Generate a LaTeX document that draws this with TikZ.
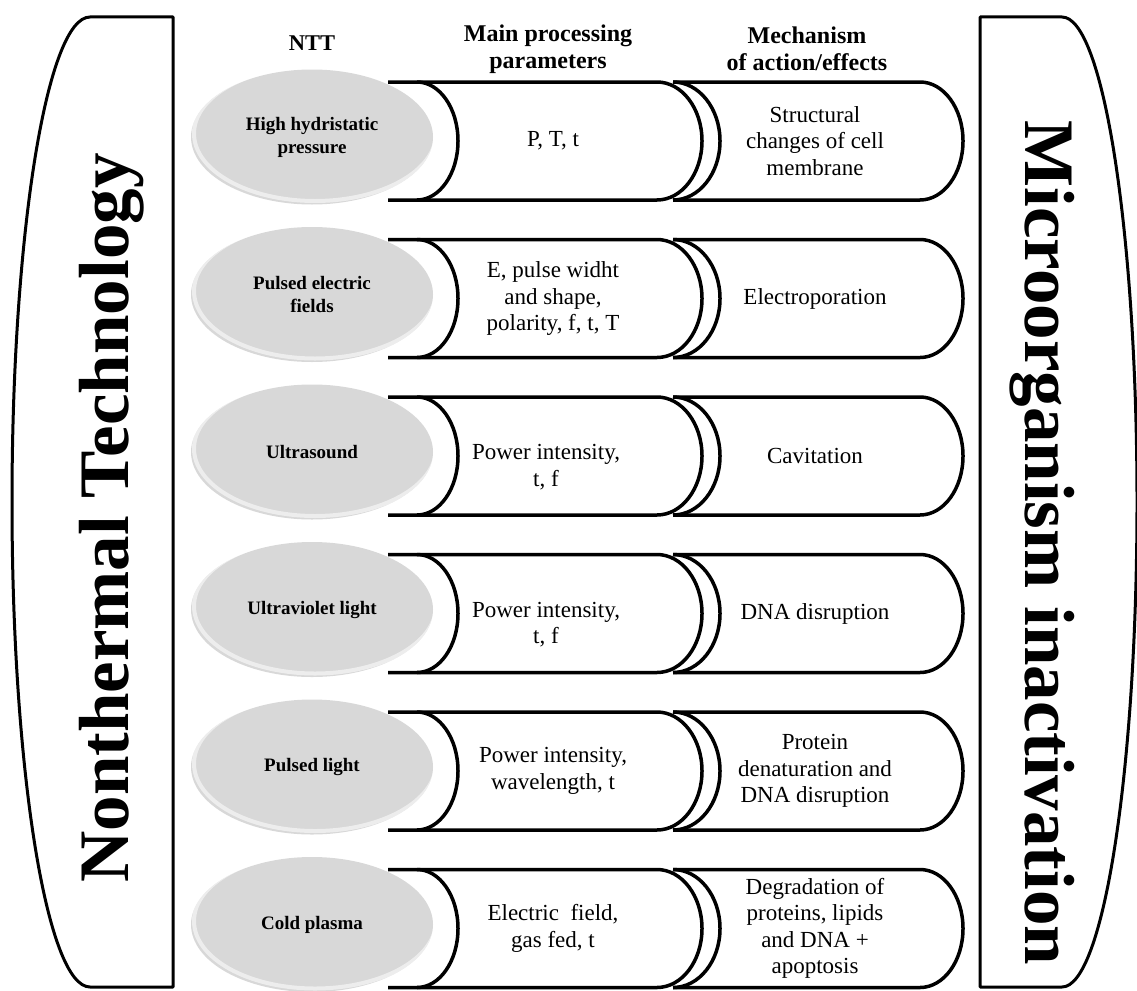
\documentclass[tikz,border=0pt]{standalone}
\usepackage{fontspec}
\setmainfont{Liberation Serif}
\definecolor{ellgray}{RGB}{216,216,216}
\begin{document}
\begin{tikzpicture}[x=1pt,y=1pt,
  outl/.style={line width=3.5pt, line join=round},
  brk/.style={line width=3pt, line join=round},
  ntt/.style={font=\fontsize{19}{23}\selectfont\bfseries, align=center, inner sep=0pt},
  body/.style={font=\fontsize{23}{26.5}\selectfont, align=center, inner sep=0pt},
  hdr/.style={font=\fontsize{24}{27.5}\selectfont\bfseries, align=center, inner sep=0pt},
  big/.style={font=\fontsize{71}{80}\selectfont\bfseries, inner sep=0pt}]
\useasboundingbox (0,0) rectangle (1137,-990);
% side brackets
\draw[brk] (173,-17) -- (90,-17) arc[start angle=90, end angle=270, x radius=78, y radius=485] -- (173,-987) -- cycle;
\draw[brk] (980,-17) -- (1062,-17) arc[start angle=90, end angle=-90, x radius=75, y radius=485] -- (980,-987) -- cycle;
\node[big, rotate=90, anchor=base] (left) at (128,-518) {Nonthermal Technology};
\node[big, rotate=-90, anchor=base] (right) at (1025,-543) {Microorganism inactivation};
% headers
\node[hdr, font=\fontsize{22.5}{27}\selectfont\bfseries] (h1) at (312,-43) {NTT};
\node[hdr] (h2) at (548,-49) {Main processing\\parameters};
\node[hdr] (h3) at (807,-49) {Mechanism\\of action/effects};
% rows
\foreach \i in {0,...,5}{
  \pgfmathsetmacro\yt{-82-157.5*\i}
  \pgfmathsetmacro\yb{\yt-118}
  \pgfmathsetmacro\ye{\yt-55}
  \begin{scope}
    \fill[ellgray] (312,\ye) ellipse[x radius=121, y radius=67.5];
    \clip (312,\ye) ellipse[x radius=121, y radius=67.5];
    \draw[white, line width=4pt, opacity=0.55] (315,\ye+3.5) ellipse[x radius=121, y radius=67.5];
  \end{scope}
  \draw[outl] (388,\yt) -- (657,\yt) arc[start angle=90, end angle=-90, x radius=45, y radius=59] -- (388,\yb);
  \draw[outl] (417,\yt) arc[start angle=90, end angle=-90, x radius=41, y radius=59];
  \draw[outl] (673,\yt) -- (920,\yt) arc[start angle=90, end angle=-90, x radius=43, y radius=59] -- (673,\yb);
  \draw[outl] (673,\yt) arc[start angle=90, end angle=-90, x radius=47, y radius=59];
}
% row texts
\node[ntt] (n1) at (312,-137) {High hydristatic\\pressure};
\node[ntt] (n2) at (312,-294.5) {Pulsed electric\\fields};
\node[ntt] (n3) at (312,-452) {Ultrasound};
\node[ntt] (n4) at (312,-609.5) {Ultraviolet light};
\node[ntt] (n5) at (312,-767) {Pulsed light};
\node[ntt] (n6) at (312,-924.5) {Cold plasma};
\node[body] (p1) at (553,-141) {P, T, t};
\node[body] (p2) at (553,-298.5) {E, pulse widht\\and shape,\\polarity, f, t, T};
\node[body] (p3) at (546,-467) {Power intensity,\\t, f};
\node[body] (p4) at (546,-624.5) {Power intensity,\\t, f};
\node[body] (p5) at (553,-771) {Power intensity,\\wavelength, t};
\node[body] (p6) at (553,-928.5) {Electric\ \ field,\\gas fed, t};
\node[body] (m1) at (815,-141) {Structural\\changes of cell\\membrane};
\node[body] (m2) at (815,-298.5) {Electroporation};
\node[body] (m3) at (815,-456) {Cavitation};
\node[body] (m4) at (815,-613.5) {DNA disruption};
\node[body] (m5) at (815,-771) {Protein\\denaturation and\\DNA disruption};
\node[body] (m6) at (815,-928.5) {Degradation of\\proteins, lipids\\and DNA +\\apoptosis};
\end{tikzpicture}
\end{document}
